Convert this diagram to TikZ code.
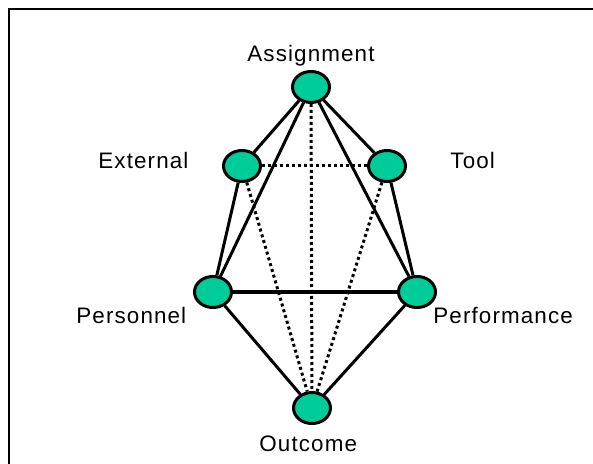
\documentclass[tikz,border=0pt]{standalone}
\usepackage{fontspec}
\setmainfont{Liberation Sans}[LetterSpace=5]
\usepackage{tikz}
\usetikzlibrary{shapes.geometric}
\usetikzlibrary{positioning}
\definecolor{factorgreen}{RGB}{0,204,153}
\tikzset{
    factor/.style = {shape=ellipse,draw,fill=factorgreen,line width=1.5pt,inner sep=0,minimum width=18.5pt,minimum height=15.5pt},
    fname/.style = {inner sep=0,anchor=base west,font=\fontsize{11.2}{13}\selectfont}
}
\tikzset{
    tie/.style = {line width=1.5pt},
    weak/.style = {line width=1.5pt,dash pattern=on 1.5pt off 1.5pt}
}
\begin{document}
\begin{tikzpicture}[x=0.5pt,y=-0.5pt]
    \useasboundingbox (0,0) rectangle (593,464);
    % Frame
    \draw[line width=0.9pt] (593,9) -- (9,9) -- (9,464);
    % Factors
    \path (311,87) node[factor] (asg) {}
        to +(-69,79) node[factor] (ext) {}
        to +(76,79) node[factor] (tool) {}
        to +(-98,205) node[factor] (pers) {}
        to +(106,205) node[factor] (perf) {}
        to +(1,321) node[factor] (out) {}
    ;
    % Names
    \node[fname] (asgN) at (247,62) {Assignment};
    \node[fname] (extN) at (98,169) {External};
    \node[fname] (toolN) at (450,169) {Tool};
    \node[fname] (persN) at (76,323) {Personnel};
    \node[fname] (perfN) at (433,323) {Performance};
    \node[fname] (outN) at (259,451) {Outcome};
    % Links
    \foreach \src/\dest in {asg/ext,asg/tool,asg/pers,asg/perf,ext/pers,tool/perf,pers/perf,pers/out,perf/out}
        \draw[tie] (\src) to (\dest);
    \foreach \src/\dest in {ext/tool,asg/out,ext/out,tool/out}
        \draw[weak] (\src) to (\dest);
\end{tikzpicture}
\end{document}
